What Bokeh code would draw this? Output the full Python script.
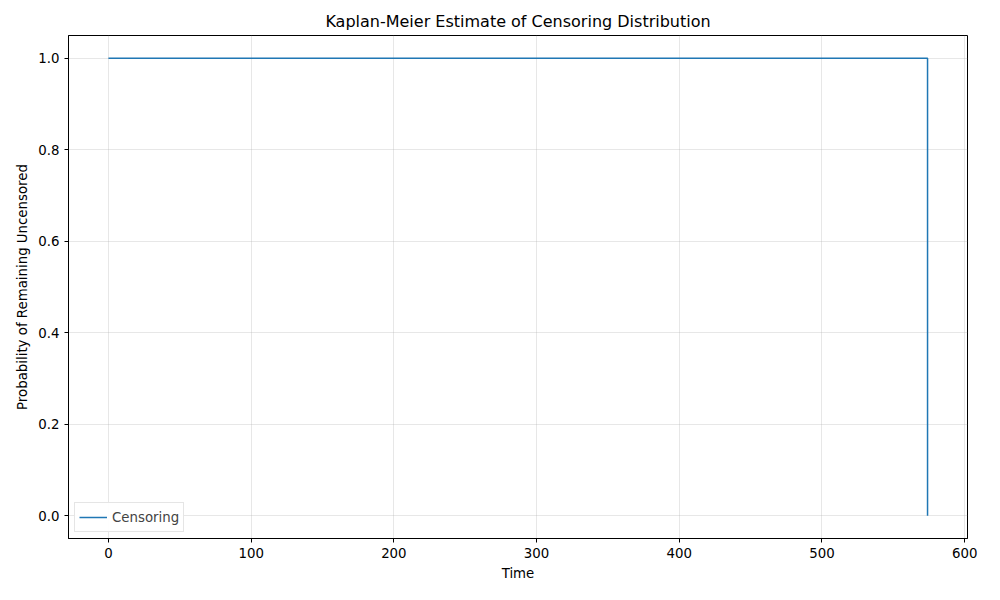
from bokeh.plotting import figure
from bokeh.models import Range1d, FixedTicker, Legend, LegendItem, NumeralTickFormatter
from bokeh.embed import file_html
from bokeh.resources import INLINE

# Kaplan-Meier censoring curve (step function)
times = [0, 574, 574]
probs = [1.0, 1.0, 0.0]

p = figure(width=984, height=584, output_backend="svg", toolbar_location=None,
           title="Kaplan-Meier Estimate of Censoring Distribution",
           x_range=Range1d(-28, 602), y_range=Range1d(-0.05, 1.05),
           min_border_left=68, min_border_right=17, min_border_top=35, min_border_bottom=46)
p.title.align = "center"
p.title.text_font_size = "12pt"
p.title.text_font_style = "normal"
p.title.text_font = "DejaVu Sans"
p.title.text_color = "black"

r = p.line(times, probs, color="#1f77b4", line_width=1.5)

p.xaxis.axis_label = "Time"
p.yaxis.axis_label = "Probability of Remaining Uncensored"
p.xaxis.ticker = FixedTicker(ticks=[0, 100, 200, 300, 400, 500, 600])
p.yaxis.ticker = FixedTicker(ticks=[0, 0.2, 0.4, 0.6, 0.8, 1.0])
p.yaxis.formatter = NumeralTickFormatter(format="0.0")
for ax in (p.xaxis, p.yaxis):
    ax.axis_label_text_font_style = "normal"
    ax.axis_label_text_font = "DejaVu Sans"
    ax.axis_label_text_font_size = "10pt"
    ax.axis_label_text_color = "black"
    ax.major_label_text_font = "DejaVu Sans"
    ax.major_label_text_font_size = "10pt"
    ax.major_label_text_color = "black"
    ax.minor_tick_line_color = None
    ax.major_tick_out = 4
    ax.major_tick_in = 0
    ax.axis_line_color = "black"
    ax.major_tick_line_color = "black"
p.grid.grid_line_color = "#b0b0b0"
p.grid.grid_line_alpha = 0.3
p.outline_line_color = "black"

legend = Legend(items=[LegendItem(label="Censoring", renderers=[r])],
                location="bottom_left", label_text_font="DejaVu Sans",
                label_text_font_size="10pt", border_line_color="#cccccc",
                glyph_width=28, padding=4, margin=6, spacing=0)
p.add_layout(legend)

open("out.html", "w").write(file_html(p, INLINE))
